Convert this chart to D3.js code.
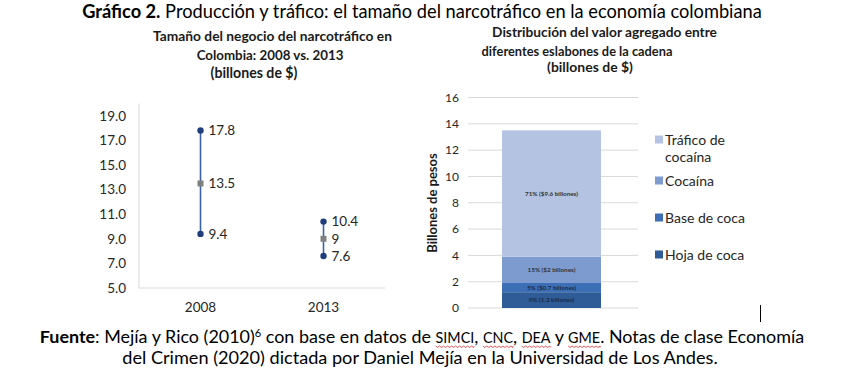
<!DOCTYPE html>
<html><head><meta charset="utf-8">
<script src="https://cdn.jsdelivr.net/npm/d3@7"></script>
<style>body{margin:0;background:#fff}svg{display:block}</style>
</head><body>
<svg id="c" width="847" height="385"></svg>
<script>
// ---- data ----
const years = ["2008", "2013"];
const highVals = [17.8, 10.4];
const midVals = [13.5, 9];
const lowVals = [9.4, 7.6];
const leftTicks = [5, 7, 9, 11, 13, 15, 17, 19];

const segments = ["Hoja de coca", "Base de coca", "Cocaína", "Tráfico de cocaína"];
const segValues = [1.2, 0.7, 2, 9.6];
const segLabels = ["9% (1.2 billones)", "5% ($0.7 billones)", "15% ($2 billones)", "71% ($9.6 billones)"];
const segColors = ["#2f5b96", "#3d6fb6", "#7e9bd0", "#b4c3e2"];
const rightTicks = [0, 2, 4, 6, 8, 10, 12, 14, 16];

const FONT = "Lato, 'Open Sans', sans-serif";
const svg = d3.select("#c").attr("font-family", FONT);

function fit(sel, w) {
  const l = sel.node().getComputedTextLength();
  const fs = parseFloat(sel.attr("font-size"));
  sel.attr("font-size", fs * w / l);
}

// ---- main title ----
const t = svg.append("text").attr("x", 422).attr("y", 18).attr("text-anchor", "middle")
  .attr("font-size", 17).attr("fill", "#000");
t.append("tspan").attr("font-weight", "bold").text("Gráfico 2.");
t.append("tspan").text(" Producción y tráfico: el tamaño del narcotráfico en la economía colombiana");
fit(t, 680);

// ---- subtitles ----
const lsub = [["Tamaño del negocio del narcotráfico en", 272.5, 41, 239],
              ["Colombia: 2008 vs. 2013", 270, 60, 147],
              ["(billones de $)", 254, 78, 87]];
const rsub = [["Distribución del valor agregado entre", 604.5, 37, 225],
              ["diferentes eslabones de la cadena", 577, 56, 191],
              ["(billones de $)", 590, 71.5, 86]];
lsub.concat(rsub).forEach(d => {
  const s = svg.append("text").attr("x", d[1]).attr("y", d[2]).attr("text-anchor", "middle")
    .attr("font-size", 12.5).attr("font-weight", "bold").attr("fill", "#1a1a1a").text(d[0]);
  fit(s, d[3]);
});

// ---- left chart ----
const xL = d3.scaleBand().domain(years).range([139, 385]).padding(0);
const yL = d3.scaleLinear().domain([5, 20]).range([288, 103.5]);
const gL = svg.append("g");
gL.append("line").attr("x1", 139).attr("x2", 139).attr("y1", yL(20)).attr("y2", yL(5))
  .attr("stroke", "#d9d9d9").attr("stroke-width", 1);
gL.append("line").attr("x1", 139).attr("x2", 385).attr("y1", yL(5)).attr("y2", yL(5))
  .attr("stroke", "#d9d9d9").attr("stroke-width", 1);
const axL = d3.axisLeft(yL).tickValues(leftTicks).tickFormat(d3.format(".1f")).tickSize(0).tickPadding(13);
const gAxL = gL.append("g").attr("transform", "translate(139,0)").call(axL);
gAxL.select(".domain").remove();
gAxL.selectAll("text").attr("font-size", 13.5).attr("font-family", FONT).attr("fill", "#262626");
const axB = d3.axisBottom(xL).tickSize(0).tickPadding(14);
const gAxB = gL.append("g").attr("transform", `translate(0,${yL(5)})`).call(axB);
gAxB.select(".domain").remove();
gAxB.selectAll("text").attr("font-size", 13.5).attr("font-family", FONT).attr("fill", "#262626");

years.forEach((yr, i) => {
  const cx = xL(yr) + xL.bandwidth() / 2;
  gL.append("line").attr("x1", cx).attr("x2", cx).attr("y1", yL(highVals[i])).attr("y2", yL(lowVals[i]))
    .attr("stroke", "#3a62a7").attr("stroke-width", 1.6);
  [highVals[i], lowVals[i]].forEach(v => {
    gL.append("circle").attr("cx", cx).attr("cy", yL(v)).attr("r", 3.2).attr("fill", "#1f3d7a");
  });
  gL.append("rect").attr("x", cx - 3).attr("y", yL(midVals[i]) - 3).attr("width", 6).attr("height", 6)
    .attr("fill", "#808080");
  [highVals[i], midVals[i], lowVals[i]].forEach(v => {
    gL.append("text").attr("x", cx + 8).attr("y", yL(v)).attr("dy", "0.35em")
      .attr("font-size", 13.5).attr("fill", "#262626").text(String(v));
  });
});

// ---- right chart ----
const yR = d3.scaleLinear().domain([0, 16]).range([308, 97.5]);
const gR = svg.append("g");
rightTicks.forEach(v => {
  gR.append("line").attr("x1", 468).attr("x2", 638).attr("y1", yR(v)).attr("y2", yR(v))
    .attr("stroke", "#d9d9d9").attr("stroke-width", 1);
});
const axR = d3.axisLeft(yR).tickValues(rightTicks).tickSize(0).tickPadding(9);
const gAxR = gR.append("g").attr("transform", "translate(468,0)").call(axR);
gAxR.select(".domain").remove();
gAxR.selectAll("text").attr("font-size", 12).attr("font-family", FONT).attr("fill", "#262626");

const stackData = [Object.fromEntries(segments.map((s, i) => [s, segValues[i]]))];
const series = d3.stack().keys(segments)(stackData);
const bx0 = 502, bw = 99;
series.forEach((s, i) => {
  const d = s[0];
  gR.append("rect").attr("x", bx0).attr("width", bw).attr("y", yR(d[1])).attr("height", yR(d[0]) - yR(d[1]))
    .attr("fill", segColors[i]);
  gR.append("text").attr("x", bx0 + bw / 2).attr("y", (yR(d[0]) + yR(d[1])) / 2).attr("dy", "0.35em")
    .attr("text-anchor", "middle").attr("font-size", 6.3).attr("font-weight", "bold")
    .attr("fill", i < 2 ? "#1c2a44" : "#333").text(segLabels[i]);
});

svg.append("text").attr("transform", "translate(437,203) rotate(-90)").attr("text-anchor", "middle")
  .attr("font-size", 13).attr("font-weight", "bold").attr("fill", "#1a1a1a").text("Billones de pesos");

// legend (top to bottom: reversed stack order)
const legY = [146, 181, 218, 255];
const legOrder = [3, 2, 1, 0];
const LF = 14;
legOrder.forEach((si, k) => {
  const y = legY[k];
  gR.append("rect").attr("x", 655).attr("y", y - 4.5 - (si === 3 ? 6 : 0)).attr("width", 8).attr("height", 8).attr("fill", segColors[si]);
  if (si === 3) {
    gR.append("text").attr("x", 665).attr("y", y - 6).attr("dy", "0.35em").attr("font-size", LF).attr("fill", "#262626").text("Tráfico de");
    gR.append("text").attr("x", 665).attr("y", y + 11).attr("dy", "0.35em").attr("font-size", LF).attr("fill", "#262626").text("cocaína");
  } else {
    gR.append("text").attr("x", 665).attr("y", y).attr("dy", "0.35em").attr("font-size", LF).attr("fill", "#262626").text(segments[si]);
  }
});

// ---- footer ----
const f1 = svg.append("text").attr("x", 422).attr("y", 343).attr("text-anchor", "middle").attr("font-size", 16).attr("fill", "#000");
f1.append("tspan").attr("font-weight", "bold").text("Fuente");
f1.append("tspan").text(": Mejía y Rico (2010)");
f1.append("tspan").attr("font-size", "0.62em").attr("dy", -6).text("6");
f1.append("tspan").attr("dy", 6).text(" con base en datos de ");
const sc = [];
sc.push(f1.append("tspan").attr("font-size", "0.8em").text("SIMCI"));
f1.append("tspan").text(", ");
sc.push(f1.append("tspan").attr("font-size", "0.8em").text("CNC"));
f1.append("tspan").text(", ");
sc.push(f1.append("tspan").attr("font-size", "0.8em").text("DEA"));
f1.append("tspan").text(" y ");
sc.push(f1.append("tspan").attr("font-size", "0.8em").text("GME"));
f1.append("tspan").text(". Notas de clase Economía");
fit(f1, 765);
const f2 = svg.append("text").attr("x", 420).attr("y", 364).attr("text-anchor", "middle").attr("font-size", 16).attr("fill", "#000")
  .text("del Crimen (2020) dictada por Daniel Mejía en la Universidad de Los Andes.");
fit(f2, 596);

// wavy underlines
sc.forEach(ts => {
  const n = ts.node();
  const len = n.getNumberOfChars();
  const first = n.getStartPositionOfChar(0);
  const last = n.getEndPositionOfChar(len - 1);
  const yb = first.y + 3;
  let p = `M${first.x},${yb}`;
  for (let x = first.x, k = 0; x < last.x; x += 2, k++) p += `L${Math.min(x + 2, last.x)},${yb + (k % 2 ? 0 : 1.5)}`;
  svg.append("path").attr("d", p).attr("fill", "none").attr("stroke", "#e03030").attr("stroke-width", 0.8);
});

// text cursor
svg.append("line").attr("x1", 760.5).attr("x2", 760.5).attr("y1", 305).attr("y2", 322).attr("stroke", "#000").attr("stroke-width", 1);
</script>
</body></html>
